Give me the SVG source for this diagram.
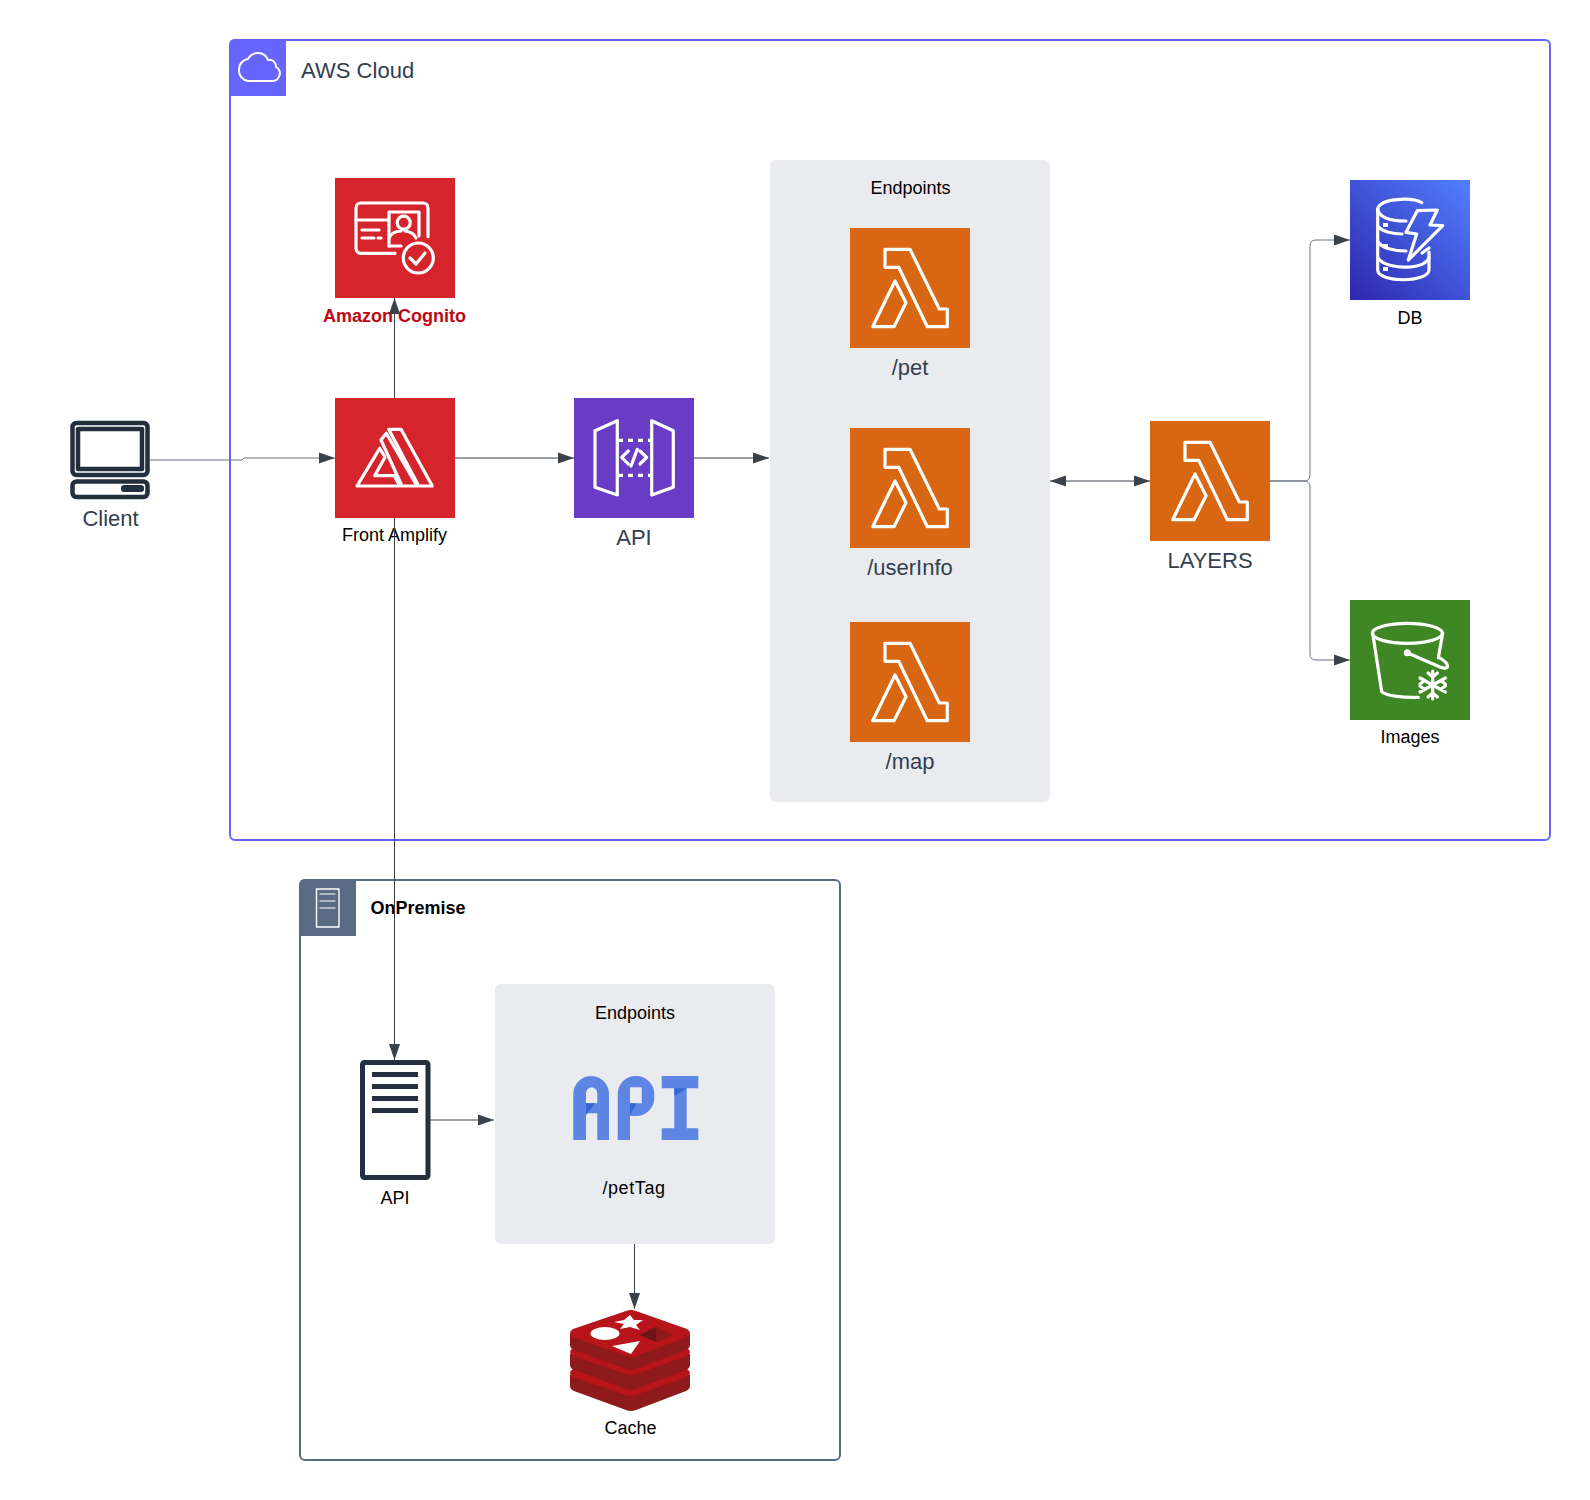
<svg xmlns="http://www.w3.org/2000/svg" width="1590" height="1500" viewBox="0 0 1590 1500">
<style>
text{font-family:"Liberation Sans",Arial,sans-serif;text-anchor:middle}
.l22{font-size:22px;fill:#333e4f}
.l18{font-size:18px;fill:#000}
.b18{font-size:18px;font-weight:700}
.ic{fill:none;stroke:#fff;stroke-width:3.2;stroke-linejoin:round;stroke-linecap:round}
.th{stroke-width:2}
.dk{fill:none;stroke:#232f3e;stroke-width:4.5;stroke-linejoin:round}
.c{fill:none;stroke:#3a414a;stroke-width:1;stroke-linejoin:round}
.panel{fill:#e9ebef}
</style>
<defs>
<marker id="ah" markerUnits="userSpaceOnUse" markerWidth="17" markerHeight="12" refX="16" refY="6" orient="auto-start-reverse"><path d="M0,0.5L16,6L0,11.5z" fill="#3a414a"/></marker>
<linearGradient id="dbg" x1="0" y1="1" x2="1" y2="0"><stop offset="0" stop-color="#2e27ad"/><stop offset="1" stop-color="#527fff"/></linearGradient>
<g id="lam"><rect width="120" height="120" fill="#d86613"/><path class="ic" d="M35,21.300H60L89.300,81H97.300V98.700H77.300L48.700,39.300H35z"/><path class="ic" d="M22.700,98.700L45,53L56,74.700L44,98.700z"/></g>
</defs>

<g id="aws-cloud">
<rect x="230" y="40" width="1320" height="800" rx="5" fill="#fff" stroke="#6666ff" stroke-width="2"/>
<path d="M235,39H286V96H229V45a6,6 0 0 1 6,-6z" fill="#6666ff"/>
<path class="ic th" d="M248,81h24a7.500,7.500 0 0 0 4,-14a6.500,6.500 0 0 0 -8,-7a11,11 0 0 0 -20,-1a10.500,10.500 0 0 0 -9,11a10.500,10.500 0 0 0 9,11z"/>
<text class="l22" x="301" y="78" style="text-anchor:start;letter-spacing:.05px">AWS Cloud</text>
</g>

<g id="endpoints-aws">
<rect class="panel" x="770" y="160" width="280" height="642" rx="6"/>
<text class="l18" x="910.500" y="194">Endpoints</text>
</g>

<g id="cognito" transform="translate(335,178)">
<rect width="120" height="120" fill="#d6242d"/>
<g class="ic">
<path d="M60,75.300H26a5,5 0 0 1 -5,-5V30a5,5 0 0 1 5,-5H88a5,5 0 0 1 5,5V58.700"/>
<path d="M21,42H53"/><path d="M27,52H44M27,60H39M43,60H46"/>
<path d="M54,68V34H84V58"/>
<circle cx="68.700" cy="44.700" r="6.500"/>
<path d="M54,60a14,10 0 0 1 12,-7M70,53a14,10 0 0 1 11,7"/>
<path d="M54,68H66"/>
<circle cx="83.300" cy="80" r="15"/>
<path d="M75,80L81,86L90,75"/>
</g>
<text class="b18" x="59.500" y="143.700" fill="#bf0816">Amazon Cognito</text>
</g>

<g id="client" transform="translate(70,421)">
<rect class="dk" x="2.500" y="2" width="75" height="52" rx="4"/>
<rect class="dk" x="8" y="8" width="64" height="40"/>
<rect class="dk" x="2.500" y="60.500" width="75" height="15.500" rx="4"/>
<rect x="51" y="64" width="23" height="7" rx="3" fill="#232f3e"/>
<text class="l22" x="40.500" y="105">Client</text>
</g>

<g id="amplify" transform="translate(335,398)">
<rect width="120" height="120" fill="#d6242d"/>
<g class="ic">
<path d="M22,88L44.700,50.300L50,59.300L39.700,77.700H59.300L64.700,88z"/>
<path d="M46,42L51.300,35.300L82,88H67z"/>
<path d="M53.700,31.300H66L97.300,88H83.700z"/>
</g>
<text class="l18" x="59.500" y="143.200">Front Amplify</text>
</g>

<g id="api-gateway" transform="translate(574,398)">
<rect width="120" height="120" fill="#693cc5"/>
<g class="ic">
<path d="M21,32.700L43.300,22.700V97L21,89.300z"/>
<path d="M77.700,22.700L99.300,32.700V89.300L77.700,97z"/>
<path d="M54.300,53L47.700,59.300L54.300,66M66,53L72.700,59.300L66,66M63.300,51.300L57,68"/>
<path d="M44,42.300H78M44,77.300H78" stroke-dasharray="5 5" stroke-linecap="butt"/>
</g>
<text class="l22" x="60" y="146.500">API</text>
</g>

<g id="lambda-pet" transform="translate(850,228)"><use href="#lam"/><text class="l22" x="60" y="147">/pet</text></g>
<g id="lambda-userinfo" transform="translate(850,428)"><use href="#lam"/><text class="l22" x="60" y="147">/userInfo</text></g>
<g id="lambda-map" transform="translate(850,622)"><use href="#lam"/><text class="l22" x="60" y="147">/map</text></g>
<g id="layers" transform="translate(1150,421)"><use href="#lam"/><text class="l22" x="60" y="147">LAYERS</text></g>

<g id="db" transform="translate(1350,180)">
<rect width="120" height="120" fill="url(#dbg)"/>
<g class="ic">
<path d="M71.700,22.700C62,17 30,18 27.700,29V90C28,103 78,103 79,90V72"/>
<path d="M27.700,29C29,38 42,41 56,41"/>
<path d="M28,46C32,52 44,54 52,54M28,62C32,68 44,71 56,71M28,78C32,85 48,88 60,87C70,86 77,83 79,78"/>
<path d="M67.300,30.700L87.300,30L80,45L92.700,45.700L58.300,80L66.700,54L56,52.300z"/>
<path d="M72,73L79,68"/>
</g>
<g fill="#fff"><rect x="33" y="43" width="5" height="4"/><rect x="33" y="64" width="5" height="4"/><rect x="33" y="87" width="5" height="4"/></g>
<text class="l18" x="60" y="143.500">DB</text>
</g>

<g id="images" transform="translate(1350,600)">
<rect width="120" height="120" fill="#3f8624"/>
<g class="ic">
<ellipse cx="57.300" cy="33.300" rx="35" ry="10"/>
<path d="M22.700,33.300L31.700,91.700C36,96 55,98 68.300,97.300"/>
<path d="M92.700,33.300L88.300,58"/>
<path d="M60,54L90,67C100,71 100,64 90,58"/>
<path d="M82.700,71V99M70,78L95.400,92M70,92L95.400,78M78,73L82.700,77L87.400,73M78,97L82.700,93L87.400,97M70,84L74,81M70,86L74,89M95.400,84L91,81M95.400,86L91,89"/>
</g>
<circle cx="57.300" cy="52.700" r="3.500" fill="#fff"/>
<text class="l18" x="60" y="143">Images</text>
</g>

<g id="onpremise">
<rect x="300" y="880" width="540" height="580" rx="5" fill="none" stroke="#5a6b86" stroke-width="2"/>
<path d="M305,879H356V936H299V885a6,6 0 0 1 6,-6z" fill="#5a6b86"/>
<g class="ic th"><rect x="316.500" y="889" width="22.500" height="38" stroke-width="1.400"/><path d="M320,894H335M320,901H335M320,908H335" stroke-width="1.200"/></g>
<text class="b18" x="370.500" y="914" fill="#000" style="text-anchor:start">OnPremise</text>
</g>

<g id="server" transform="translate(360,1060)">
<rect x="2.500" y="2.500" width="65.500" height="115" rx="2" fill="#fff" stroke="#232f3e" stroke-width="5"/>
<g fill="#232f3e"><rect x="12" y="12" width="46" height="5"/><rect x="12" y="24" width="46" height="5"/><rect x="12" y="36" width="46" height="5"/><rect x="12" y="48" width="46" height="5"/></g>
<text class="l18" x="35" y="143.500">API</text>
</g>

<g id="endpoints-onprem">
<rect class="panel" x="495" y="984" width="280" height="260" rx="6"/>
<text class="l18" x="635" y="1019">Endpoints</text>
<path fill="#5c85e4" fill-rule="evenodd" d="M573.300,1140V1094a18,18 0 0 1 18,-18H591a18,18 0 0 1 18,18V1140H597.300V1113.300H586V1140zM586,1103.300H597.300V1094a6,6 0 0 0 -6,-6.700a6,6 0 0 0 -5.300,6.700z"/>
<path fill="#5c85e4" fill-rule="evenodd" d="M617.700,1140V1094a18,18 0 0 1 18,-18H636a18,18 0 0 1 18.300,18V1098a18,18 0 0 1 -18.300,18H630V1140zM630,1103.300H641.700V1087.300H630z"/>
<path fill="#5c85e4" d="M661.700,1076H698.300V1088.300H686.700V1128.300H698.300V1140H661.700V1128.300H674.300V1088.300H661.700z"/>
<path fill="#3367d6" d="M586,1103.300H595L586,1115zM630,1103.300H636.700L630,1115zM674.300,1088.300H686.700L674.300,1096z"/>
<text class="l18" x="634" y="1194" style="letter-spacing:.6px">/petTag</text>
</g>

<g id="cache">
<g id="redis-layers">
<path fill="#8f1a1c" d="M570,1375V1386Q570,1389 574,1391L626,1410Q631,1412 636,1410L686,1391Q690,1389 690,1386V1375z"/>
<path fill="#b8141b" d="M573,1369L626,1350Q631,1348 636,1350L687,1369Q693,1373 687,1377L636,1395Q631,1397 626,1395L573,1377Q567,1373 573,1369z"/>
<path fill="#8f1a1c" d="M570,1354V1365Q570,1368 574,1370L626,1389Q631,1391 636,1389L686,1370Q690,1368 690,1365V1354z"/>
<path fill="#b8141b" d="M573,1348L626,1329Q631,1327 636,1329L687,1348Q693,1352 687,1356L636,1374Q631,1376 626,1374L573,1356Q567,1352 573,1348z"/>
<path fill="#8f1a1c" d="M570,1334V1345Q570,1348 574,1350L626,1369Q631,1371 636,1369L686,1350Q690,1348 690,1345V1334z"/>
<path fill="#b8141b" d="M573,1329L626,1311Q631,1309 636,1311L687,1329Q693,1333 687,1337L636,1356Q631,1358 626,1356L573,1337Q567,1333 573,1329z"/>
</g>
<path fill="#fff" d="M630,1315L634,1320L643,1320L636,1325L640,1330L630,1327L620,1329L624,1324L614,1322L624,1320z"/>
<ellipse cx="605" cy="1333.500" rx="14.500" ry="6.500" fill="#fff"/>
<path fill="#fff" d="M612,1346L640,1341L631,1354z"/>
<path fill="#6d1416" d="M656,1327L673,1335L656,1342L639,1335z"/>
<path fill="#8f1a1c" d="M656,1327L673,1335L656,1342z"/>
<text class="l18" x="630.500" y="1434">Cache</text>
</g>

<g id="connectors">
<path class="c" style="stroke:#6b7280" marker-end="url(#ah)" d="M150,460H242L244,458H335"/>
<path class="c" marker-end="url(#ah)" d="M455,458H574"/>
<path class="c" marker-end="url(#ah)" d="M694,458H769"/>
<path class="c" marker-end="url(#ah)" d="M394.500,398V298"/>
<path class="c" marker-end="url(#ah)" d="M394.500,518V1060"/>
<path class="c" marker-end="url(#ah)" d="M430,1120H494"/>
<path class="c" marker-end="url(#ah)" d="M634.500,1244V1309"/>
<path class="c" marker-start="url(#ah)" marker-end="url(#ah)" d="M1050,481H1150"/>
<path class="c" style="stroke:#6b7280" marker-end="url(#ah)" d="M1270,481H1304Q1310,481 1310,475V246Q1310,240 1316,240H1350"/>
<path class="c" style="stroke:#6b7280" marker-end="url(#ah)" d="M1270,481H1304Q1310,481 1310,487V654Q1310,660 1316,660H1350"/>
</g>
</svg>
